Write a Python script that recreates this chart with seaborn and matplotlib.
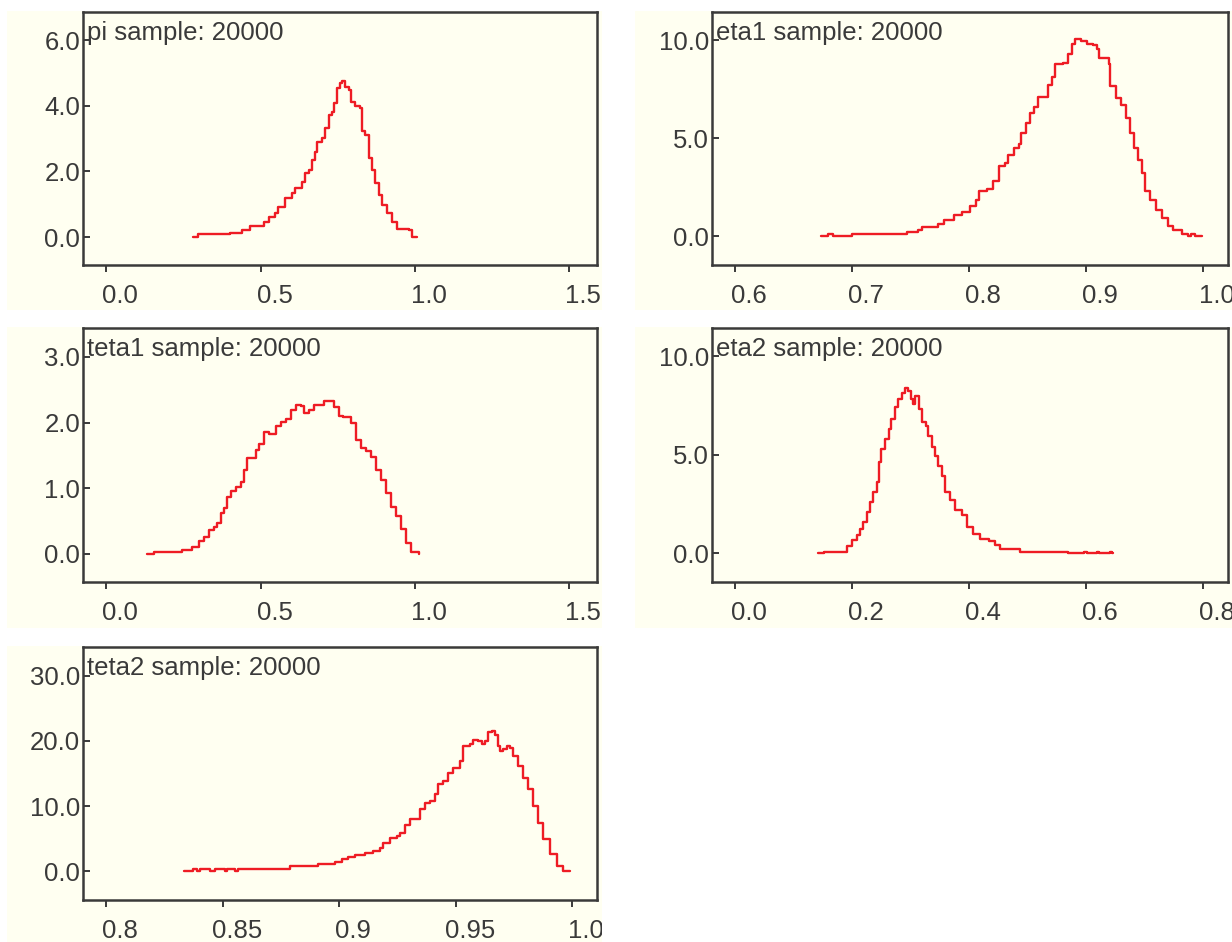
import matplotlib
matplotlib.use("Agg")
import matplotlib.pyplot as plt
import matplotlib.transforms as mtransforms
from matplotlib.patches import Rectangle
import seaborn as sns

# ── densités (x = valeur, y = densité) ──────────────────────────────────────
pi_x = [0.282, 0.299, 0.396, 0.400, 0.434, 0.440, 0.461, 0.466, 0.499, 0.510,
        0.526, 0.548, 0.558, 0.580, 0.602, 0.612, 0.634, 0.645, 0.656, 0.667,
        0.675, 0.683, 0.699, 0.710, 0.721, 0.731, 0.737, 0.748, 0.759, 0.764,
        0.775, 0.786, 0.794, 0.807, 0.823, 0.829, 0.840, 0.851, 0.861, 0.872,
        0.883, 0.894, 0.910, 0.926, 0.943, 0.981, 0.992, 1.008]
pi_y = [0.0, 0.08, 0.08, 0.13, 0.13, 0.21, 0.21, 0.34, 0.34, 0.47,
        0.62, 0.74, 0.91, 1.18, 1.33, 1.51, 1.68, 1.94, 2.06, 2.35,
        2.60, 2.91, 3.01, 3.31, 3.72, 3.82, 4.08, 4.53, 4.70, 4.77,
        4.58, 4.48, 4.13, 4.00, 3.92, 3.22, 3.11, 2.40, 2.04, 1.64,
        1.28, 0.98, 0.72, 0.47, 0.26, 0.21, 0.0, 0.0]

eta1_x = [0.674, 0.680, 0.684, 0.700, 0.747, 0.757, 0.760, 0.774, 0.779, 0.787,
          0.794, 0.801, 0.806, 0.809, 0.816, 0.821, 0.826, 0.831, 0.834, 0.839,
          0.843, 0.845, 0.849, 0.852, 0.856, 0.859, 0.865, 0.868, 0.871, 0.874,
          0.881, 0.885, 0.888, 0.891, 0.896, 0.901, 0.906, 0.910, 0.911, 0.920,
          0.921, 0.926, 0.930, 0.934, 0.938, 0.941, 0.945, 0.948, 0.951, 0.955,
          0.960, 0.965, 0.970, 0.975, 0.982, 0.987, 0.990, 0.993, 0.999]
eta1_y = [0.0, 0.12, 0.0, 0.12, 0.22, 0.34, 0.46, 0.64, 0.81, 1.10,
          1.25, 1.56, 1.86, 2.29, 2.41, 2.80, 3.56, 3.73, 4.15, 4.49,
          4.71, 5.25, 5.76, 6.27, 6.61, 7.08, 7.12, 7.71, 8.14, 8.81,
          8.85, 9.32, 9.83, 10.08, 9.95, 9.83, 9.78, 9.53, 9.07, 8.81,
          7.66, 7.03, 6.69, 6.02, 5.25, 4.49, 3.90, 3.22, 2.29, 1.86,
          1.36, 0.93, 0.54, 0.34, 0.12, 0.0, 0.12, 0.0, 0.0]

teta1_x = [0.132, 0.154, 0.246, 0.279, 0.300, 0.317, 0.333, 0.349, 0.360, 0.371,
           0.381, 0.392, 0.403, 0.419, 0.436, 0.446, 0.457, 0.484, 0.495, 0.511,
           0.528, 0.549, 0.565, 0.582, 0.598, 0.614, 0.630, 0.641, 0.657, 0.674,
           0.706, 0.739, 0.753, 0.766, 0.793, 0.809, 0.825, 0.842, 0.858, 0.874,
           0.890, 0.907, 0.923, 0.939, 0.955, 0.971, 0.988, 1.015]
teta1_y = [0.0, 0.03, 0.06, 0.10, 0.19, 0.26, 0.36, 0.41, 0.47, 0.62,
           0.70, 0.87, 0.95, 1.02, 1.10, 1.28, 1.46, 1.58, 1.68, 1.86,
           1.82, 1.95, 2.01, 2.06, 2.19, 2.27, 2.25, 2.14, 2.19, 2.27,
           2.33, 2.24, 2.10, 2.08, 1.99, 1.74, 1.61, 1.56, 1.48, 1.28,
           1.13, 0.92, 0.72, 0.57, 0.37, 0.16, 0.02, 0.0]

eta2_x = [0.143, 0.152, 0.192, 0.200, 0.209, 0.214, 0.220, 0.226, 0.231, 0.237,
          0.243, 0.246, 0.251, 0.257, 0.263, 0.268, 0.274, 0.280, 0.286, 0.291,
          0.297, 0.301, 0.305, 0.308, 0.316, 0.320, 0.327, 0.331, 0.337, 0.343,
          0.348, 0.354, 0.360, 0.368, 0.377, 0.388, 0.397, 0.408, 0.419, 0.434,
          0.445, 0.454, 0.488, 0.570, 0.598, 0.603, 0.619, 0.623, 0.642, 0.645,
          0.647]
eta2_y = [0.0, 0.06, 0.37, 0.65, 0.90, 1.21, 1.58, 2.09, 2.59, 3.10,
          3.60, 4.61, 5.29, 5.80, 6.30, 6.81, 7.40, 7.82, 8.15, 8.38,
          8.24, 7.82, 7.57, 7.99, 7.31, 6.64, 6.47, 5.96, 5.37, 4.95,
          4.45, 3.94, 3.10, 2.68, 2.17, 1.92, 1.33, 0.99, 0.74, 0.60,
          0.43, 0.20, 0.06, 0.0, 0.06, 0.0, 0.06, 0.0, 0.06, 0.0,
          0.0]

teta2_x = [0.8334, 0.8374, 0.8390, 0.8402, 0.8445, 0.8467, 0.8510, 0.8517, 0.8553, 0.8567,
           0.8789, 0.8910, 0.8982, 0.9010, 0.9039, 0.9068, 0.9111, 0.9146, 0.9175, 0.9189,
           0.9218, 0.9247, 0.9261, 0.9283, 0.9304, 0.9333, 0.9347, 0.9368, 0.9390, 0.9411,
           0.9426, 0.9447, 0.9468, 0.9490, 0.9519, 0.9533, 0.9562, 0.9576, 0.9597, 0.9612,
           0.9626, 0.9640, 0.9655, 0.9669, 0.9683, 0.9690, 0.9705, 0.9719, 0.9733, 0.9748,
           0.9769, 0.9790, 0.9812, 0.9833, 0.9855, 0.9876, 0.9905, 0.9934, 0.9962, 0.9991]
teta2_y = [0.0, 0.3, 0.0, 0.4, 0.0, 0.3, 0.0, 0.4, 0.0, 0.4,
           0.8, 1.07, 1.43, 1.84, 2.25, 2.45, 2.76, 3.11, 3.62, 4.39,
           5.16, 5.41, 5.92, 7.04, 7.96, 8.06, 9.49, 10.52, 10.77, 11.79,
           13.32, 13.83, 15.11, 15.88, 16.89, 19.19, 19.45, 20.11, 19.96, 19.45,
           19.96, 21.34, 21.49, 20.98, 19.19, 18.43, 18.79, 19.29, 18.94, 17.66,
           16.13, 14.35, 12.56, 10.00, 7.45, 4.90, 2.60, 0.82, 0.0, 0.0]

names = ["pi", "eta1", "teta1", "eta2", "teta2"]
sample_size = 20000

x_ticks = [[0.0, 0.5, 1.0, 1.5], [0.6, 0.7, 0.8, 0.9, 1.0], [0.0, 0.5, 1.0, 1.5],
           [0.0, 0.2, 0.4, 0.6, 0.8], [0.8, 0.85, 0.9, 0.95, 1.0]]
x_labels = [["0.0", "0.5", "1.0", "1.5"], ["0.6", "0.7", "0.8", "0.9", "1.0"],
            ["0.0", "0.5", "1.0", "1.5"], ["0.0", "0.2", "0.4", "0.6", "0.8"],
            ["0.8", "0.85", "0.9", "0.95", "1.0"]]
y_ticks = [[0, 2, 4, 6], [0, 5, 10], [0, 1, 2, 3], [0, 5, 10], [0, 10, 20, 30]]
y_labels = [["0.0", "2.0", "4.0", "6.0"], ["0.0", "5.0", "10.0"],
            ["0.0", "1.0", "2.0", "3.0"], ["0.0", "5.0", "10.0"],
            ["0.0", "10.0", "20.0", "30.0"]]

series = [(pi_x, pi_y), (eta1_x, eta1_y), (teta1_x, teta1_y),
          (eta2_x, eta2_y), (teta2_x, teta2_y)]

# ── mise en page (pixels, origine en haut à gauche) ─────────────────────────
W, H = 1232, 942
x_lims = [(-0.075, 1.590), (0.5806, 1.0216), (-0.075, 1.590), (-0.0388, 0.8435), (0.790, 1.0107)]
y_lims = [(-0.85, 6.86), (-1.47, 11.44), (-0.43, 3.44), (-1.47, 11.44), (-4.4, 34.4)]
axes_px = [(83, 12, 597, 265), (712, 12, 1228, 265), (83, 328, 597, 582),
           (712, 328, 1228, 582), (83, 647, 597, 900)]
cream_px = [(7, 11, 602, 310), (635, 11, 1232, 310), (7, 327, 602, 628),
            (635, 327, 1232, 628), (7, 646, 602, 942)]

CREAM = "#fffff1"
RED = "#ee1c24"
INK = "#3a3a3a"
FS = 18.5

sns.set_theme(style="ticks")
plt.rcParams["font.family"] = ["Liberation Sans", "DejaVu Sans"]

fig = plt.figure(figsize=(W / 100, H / 100), dpi=100)
fig.patch.set_facecolor("white")


def fig_box(l, t, r, b):
    return [l / W, 1 - b / H, (r - l) / W, (b - t) / H]


for i, name in enumerate(names):
    xs, ys = series[i]
    cl, ct, cr, cb = cream_px[i]
    fig.add_artist(Rectangle((cl / W, 1 - cb / H), (cr - cl) / W, (cb - ct) / H,
                             transform=fig.transFigure, facecolor=CREAM,
                             edgecolor="none", zorder=-1))

    ax = fig.add_axes(fig_box(*axes_px[i]))
    ax.set_facecolor(CREAM)
    # densité en escalier, comme la sortie de BUGS
    sns.lineplot(x=xs, y=ys, ax=ax, color=RED, lw=1.7, drawstyle="steps-post",
                 estimator=None, sort=False)
    ax.set_xlim(x_lims[i])
    ax.set_ylim(y_lims[i])
    ax.set_xticks(x_ticks[i], x_labels[i])
    ax.set_yticks(y_ticks[i], y_labels[i])
    ax.set_xlabel("")
    ax.set_ylabel("")
    for sp in ax.spines.values():
        sp.set_visible(True)
        sp.set_color(INK)
        sp.set_linewidth(1.8)
    ax.tick_params(axis="x", direction="out", length=5, width=1.4, color=INK,
                   labelsize=FS, labelcolor=INK, pad=9)
    ax.tick_params(axis="y", direction="in", length=5, width=1.4, color=INK,
                   labelsize=FS, labelcolor=INK, pad=2)

    ax.text(0, 1, f"{name} sample: {sample_size}", ha="left", va="top",
            fontsize=FS, color=INK,
            transform=ax.transAxes + mtransforms.ScaledTranslation(0.04, -0.09, fig.dpi_scale_trans))

    # les étiquettes x sont décalées à droite et coupées au bord du panneau
    clip = mtransforms.TransformedBbox(
        mtransforms.Bbox.from_extents(cl / W, 1 - cb / H, cr / W, 1 - ct / H), fig.transFigure)
    shift = mtransforms.ScaledTranslation(0.14, 0, fig.dpi_scale_trans)
    for lab in ax.get_xticklabels():
        lab.set_transform(lab.get_transform() + shift)
        lab.set_clip_box(clip)
        lab.set_clip_on(True)

fig.savefig("out.png", dpi=100)
